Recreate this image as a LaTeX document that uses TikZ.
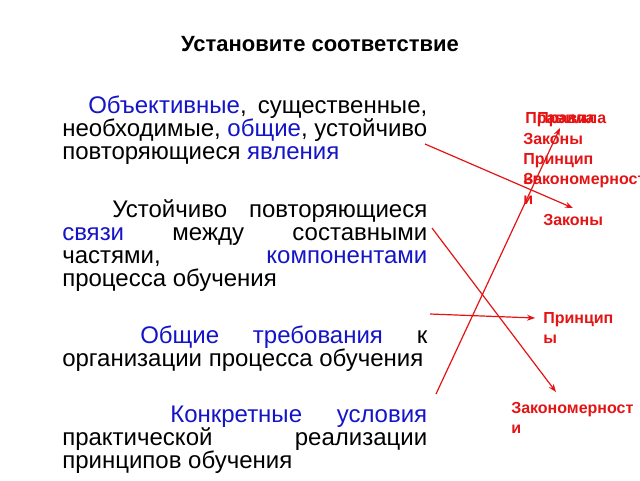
\documentclass[tikz,border=0pt]{standalone}
\usepackage{fontspec}
\setmainfont{Liberation Sans}
\usetikzlibrary{arrows.meta}
\definecolor{tred}{RGB}{228,20,20}
\definecolor{tblue}{RGB}{20,20,200}
\hyphenpenalty=10000
\exhyphenpenalty=10000
\begin{document}
\begin{tikzpicture}[x=0.75pt,y=-0.75pt,
  para/.style={anchor=north west, inner sep=0pt, text width=273.75pt, align=justify,
    font=\fontsize{18}{17.25}\selectfont},
  lbl/.style={anchor=north west, inner sep=0pt, text=tred, align=left,
    font=\fontsize{12}{15.4}\selectfont\bfseries},
  conn/.style={draw=tred, line width=0.9pt, -{Stealth[length=6pt,width=4.5pt]}}]
\useasboundingbox (0,0) rectangle (640,480);
\fill[white] (0,0) rectangle (640,480);

\node[anchor=base, inner sep=0pt, font=\fontsize{16.5}{19}\selectfont\bfseries] (title) at (320,51.7) {Установите соответствие};

\node[para] (p1) at (62,96) {\hspace*{19.5pt}\textcolor{tblue}{Объективные}, существенные,\linebreak необходимые, \textcolor{tblue}{общие}, устойчиво\linebreak повторяющиеся \textcolor{tblue}{явления}};
\node[para] (p2) at (62,199) {\hspace*{37.5pt}Устойчиво повторяющиеся\linebreak \textcolor{tblue}{связи} между составными\linebreak частями, \textcolor{tblue}{компонентами}\linebreak процесса обучения};
\node[para] (p3) at (62,326) {\hspace*{58.5pt}\textcolor{tblue}{Общие требования} к\linebreak организации процесса обучения};
\node[para] (p4) at (62,406) {\hspace*{81pt}\textcolor{tblue}{Конкретные условия}\linebreak практической реализации\linebreak принципов обучения};

% stacked original labels (top right)
\node[lbl] (s1) at (525,112) {Правила};
\node[lbl] (s1b) at (537,112) {Правила};
\node[lbl] (s2) at (523,133) {Законы};
\node[lbl] (s3) at (523,153) {Принцип\\ы};
\node[lbl] (s4) at (523,173) {Закономерност\\и};

% placed labels
\node[lbl] (zak) at (543,214) {Законы};
\node[lbl] (prin) at (543,312) {Принцип\\ы};
\node[lbl] (zkm) at (511,402) {Закономерност\\и};

\coordinate (a1s) at (425,144);
\coordinate (a1e) at (573,208);
\coordinate (a2s) at (436,394);
\coordinate (a2e) at (560,128);
\coordinate (a3s) at (430,314);
\coordinate (a3e) at (535,318);
\coordinate (a4s) at (432,228);
\coordinate (a4e) at (556,392);

\draw[conn] (a1s) -- (a1e);
\draw[conn] (a2s) -- (a2e);
\draw[conn] (a3s) -- (a3e);
\draw[conn] (a4s) -- (a4e);
\end{tikzpicture}
\end{document}
